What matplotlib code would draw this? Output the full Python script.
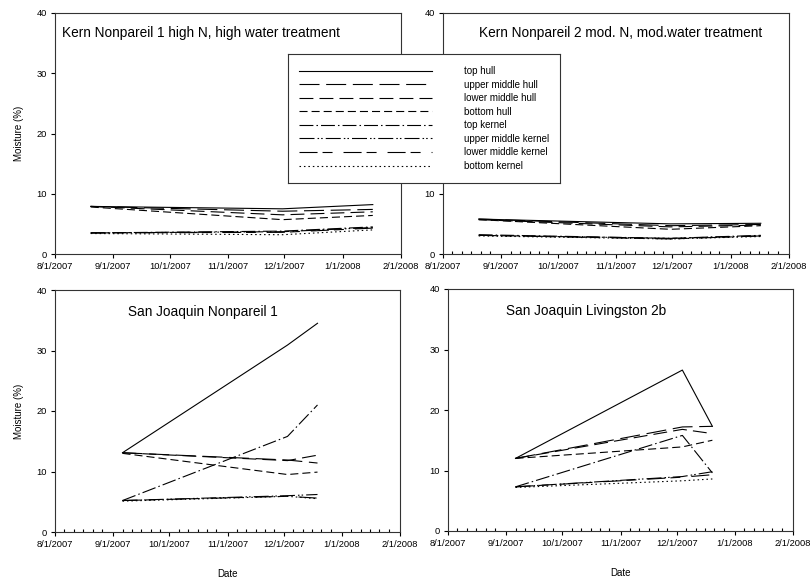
import datetime as dt
import matplotlib
matplotlib.use("Agg")
import matplotlib.pyplot as plt
import matplotlib.dates as mdates

plt.rcParams['font.family'] = ['Liberation Sans', 'DejaVu Sans']
plt.rcParams['lines.scale_dashes'] = False

# series names, same order in every panel
series = ['top hull', 'upper middle hull', 'lower middle hull', 'bottom hull',
          'top kernel', 'upper middle kernel', 'lower middle kernel', 'bottom kernel']

# sampling dates
kern_dates = [dt.date(2007, 8, 20), dt.date(2007, 11, 30), dt.date(2008, 1, 17)]
sj1_dates = [dt.date(2007, 9, 6), dt.date(2007, 12, 3), dt.date(2007, 12, 19)]
sj2_dates = [dt.date(2007, 9, 6), dt.date(2007, 12, 4), dt.date(2007, 12, 20)]

# moisture (%) per series
kern1 = [[7.9, 7.5, 8.2], [7.9, 7.1, 7.4], [7.9, 6.5, 7.0], [7.8, 5.7, 6.4],
         [3.5, 3.8, 4.5], [3.5, 3.7, 4.4], [3.5, 3.6, 4.3], [3.4, 3.2, 4.0]]
kern2 = [[5.8, 5.0, 5.1], [5.8, 4.7, 4.9], [5.7, 4.5, 4.8], [5.7, 4.1, 4.7],
         [3.2, 2.6, 3.1], [3.1, 2.6, 3.0], [3.1, 2.5, 3.0], [3.0, 2.5, 2.9]]
sj1 = [[13.1, 30.9, 34.5], [13.1, 11.9, 11.4], [13.1, 11.8, 12.7], [13.0, 9.5, 9.9],
       [5.2, 15.8, 21.0], [5.2, 6.0, 6.2], [5.2, 5.9, 5.6], [5.1, 5.9, 5.5]]
sj2 = [[12.0, 26.6, 17.3], [12.0, 17.2, 17.3], [12.0, 16.8, 16.1], [12.0, 13.9, 15.0],
       [7.3, 15.8, 9.6], [7.3, 9.0, 9.8], [7.3, 8.9, 9.3], [7.2, 8.3, 8.6]]

titles = ['Kern Nonpareil 1 high N, high water treatment',
          'Kern Nonpareil 2 mod. N, mod.water treatment',
          'San Joaquin Nonpareil 1',
          'San Joaquin Livingston 2b']

styles = ['-',
          (0, (14.4, 4.8)),
          (0, (10, 4.4)),
          (0, (5.8, 2.9)),
          (0, (10, 2.2, 1.1, 2.2)),
          (0, (10.8, 2.2, 1.1, 1.5, 1.1, 2.2)),
          (0, (13, 3.6, 7.2, 7.9)),
          (0, (1.1, 2.1))]

W, H = 810, 578
fig = plt.figure(figsize=(8.1, 5.78), dpi=100)


def box(l, t, r, b):
    return [l / W, 1 - b / H, (r - l) / W, (b - t) / H]


panels = [
    (box(55, 13, 401, 254), kern_dates, kern1, (0.02, 0.917), 'left', True, False, False),
    (box(443, 13, 789, 254), kern_dates, kern2, (0.514, 0.917), 'center', False, False, True),
    (box(55, 290, 400, 532), sj1_dates, sj1, (0.212, 0.909), 'left', True, True, True),
    (box(448, 289, 793, 531), sj2_dates, sj2, (0.168, 0.909), 'left', False, True, True),
]


def datelabel(x, pos):
    d = mdates.num2date(x)
    return f"{d.month}/{d.day}/{d.year}"


for i, (rect, dates, vals, tpos, ha, ylab, xlab, minor) in enumerate(panels):
    ax = fig.add_axes(rect)
    for name, ls, v in zip(series, styles, vals):
        ax.plot(dates, v, color='black', lw=0.8, linestyle=ls, label=name)
    ax.set_xlim(dt.date(2007, 8, 1), dt.date(2008, 2, 1))
    ax.set_ylim(0, 40)
    ax.set_yticks([0, 10, 20, 30, 40])
    ax.xaxis.set_major_locator(mdates.MonthLocator())
    ax.xaxis.set_major_formatter(plt.FuncFormatter(datelabel))
    if minor:
        ax.xaxis.set_minor_locator(mdates.DayLocator(bymonthday=[6, 11, 16, 21, 26]))
        ax.tick_params(axis='x', which='minor', direction='in', length=2, width=0.8)
    ax.tick_params(axis='both', which='major', direction='out', length=3, width=0.8,
                   labelsize=6.7, pad=3)
    for s in ax.spines.values():
        s.set_color('#333333')
        s.set_linewidth(0.8)
    ax.text(tpos[0], tpos[1], titles[i], transform=ax.transAxes, fontsize=9.8,
            ha=ha, va='center')
    if ylab:
        ax.set_ylabel('Moisture (%)', fontsize=7, labelpad=9)
    if xlab:
        ax.set_xlabel('Date', fontsize=7, labelpad=14)
    if i == 0:
        handles, labels = ax.get_legend_handles_labels()

# legend box overlapping the two top panels
lax = fig.add_axes(box(288, 54, 560, 183))
lax.set_xticks([])
lax.set_yticks([])
for s in lax.spines.values():
    s.set_color('#333333')
    s.set_linewidth(0.8)
lax.legend(handles, labels, loc='center', frameon=False, fontsize=7,
           handlelength=13.6, handletextpad=3.3, labelspacing=0.37)

fig.savefig('out.png', dpi=100)
